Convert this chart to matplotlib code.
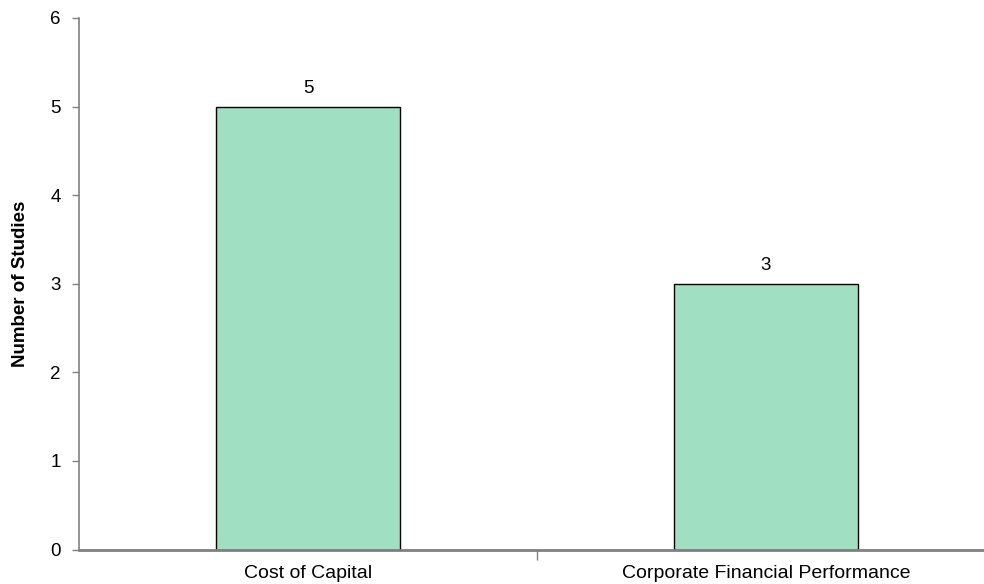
import matplotlib
matplotlib.use("Agg")
import matplotlib.pyplot as plt

categories = ["Cost of Capital", "Corporate Financial Performance"]
values = [5, 3]
yticks = [0, 1, 2, 3, 4, 5, 6]

plt.rcParams['font.family'] = ['Liberation Sans', 'DejaVu Sans']

W, H = 984, 584
fig = plt.figure(figsize=(W / 100, H / 100), dpi=100)
left = 79 / W
right = 995 / W
bottom = 1 - 549.5 / H
top = 1 - 18 / H
ax = fig.add_axes([left, bottom, right - left, top - bottom])

x = list(range(len(categories)))
ax.bar(x, values, width=0.40, color="#A0DFC2", edgecolor="black", linewidth=1.0, zorder=2)
for xi, v in zip(x, values):
    ax.annotate(str(v), (xi, v), xytext=(0, 7), textcoords="offset points",
                ha="center", va="bottom", fontsize=13.5)

ax.set_xlim(-0.5, len(categories) - 0.5)
ax.set_ylim(0, 6)
ax.set_yticks(yticks)
ax.set_yticklabels([str(t) for t in yticks], fontsize=13.5)
ax.set_xticks([i + 0.5 for i in range(len(categories) - 1)])
ax.set_xticklabels([])
ax.set_xticks(x, minor=True)
ax.set_xticklabels(categories, minor=True, fontsize=14)
ax.tick_params(axis="x", which="minor", length=0, pad=11)
ax.tick_params(axis="x", which="major", length=7, color="#808080", width=1)
ax.tick_params(axis="y", length=5, color="#808080", width=1, pad=8)

for s in ["top", "right"]:
    ax.spines[s].set_visible(False)
ax.spines["left"].set_color("#808080")
ax.spines["left"].set_linewidth(1.2)
ax.spines["bottom"].set_color("#808080")
ax.spines["bottom"].set_linewidth(2)
ax.spines["bottom"].set_zorder(3)

ax.set_ylabel("Number of Studies", fontsize=13.5, fontweight="bold")
ax.yaxis.set_label_coords(-(79 - 29) / (995 - 79), 0.5)

fig.savefig("out.png", dpi=100)
